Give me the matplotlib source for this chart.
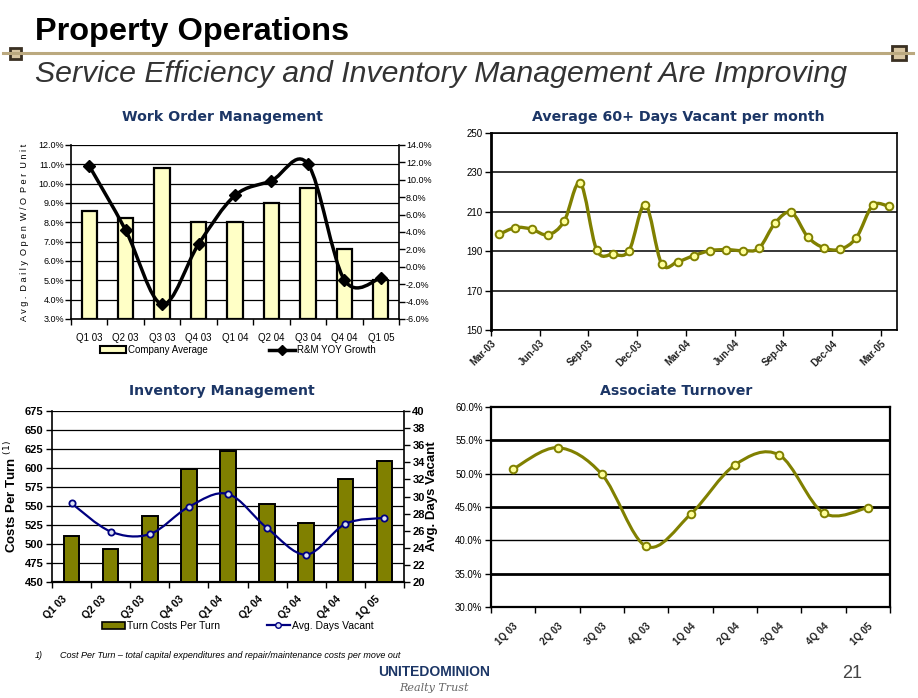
import matplotlib.pyplot as plt
import numpy as np
from matplotlib.path import Path
from matplotlib.patches import PathPatch, Rectangle
from matplotlib.lines import Line2D
from matplotlib.ticker import FuncFormatter

plt.rcParams['font.family'] = ['Liberation Sans', 'DejaVu Sans']

# ---- data ----
quarters_wo = ['Q1 03', 'Q2 03', 'Q3 03', 'Q4 03', 'Q1 04', 'Q2 04', 'Q3 04', 'Q4 04', 'Q1 05']
company_avg = [8.6, 8.2, 10.8, 8.0, 8.0, 9.0, 9.8, 6.6, 5.0]
rm_yoy = [11.6, 4.2, -4.3, 2.6, 8.2, 9.9, 11.8, -1.5, -1.3]

months = ['Mar-03', 'Jun-03', 'Sep-03', 'Dec-03', 'Mar-04', 'Jun-04', 'Sep-04', 'Dec-04', 'Mar-05']
vacant60 = [198.5, 202.0, 201.2, 198.3, 205.1, 224.6, 190.8, 188.5, 190.3, 213.7,
            183.7, 184.7, 187.8, 190.3, 190.8, 190.3, 191.5, 204.4, 209.7, 197.3,
            191.7, 191.0, 196.9, 213.2, 212.7]

quarters_inv = ['Q1 03', 'Q2 03', 'Q3 03', 'Q4 03', 'Q1 04', 'Q2 04', 'Q3 04', 'Q4 04', '1Q 05']
turn_costs = [510, 494, 537, 599, 623, 553, 527, 586, 609]
days_vacant = [29.2, 25.9, 25.6, 28.8, 30.3, 26.3, 23.2, 26.8, 27.5]

quarters_at = ['1Q 03', '2Q 03', '3Q 03', '4Q 03', '1Q 04', '2Q 04', '3Q 04', '4Q 04', '1Q 05']
turnover = [50.7, 53.9, 49.9, 39.1, 43.9, 51.3, 52.8, 44.1, 44.9]

W, H = 918, 698
NAVY = '#1C3666'
OLIVE = '#808000'
NARROW = ['Liberation Sans Narrow', 'Liberation Sans', 'DejaVu Sans']


def box(l, t, r, b):
    return [l / W, 1 - b / H, (r - l) / W, (b - t) / H]


def smooth(ax, x, y, **kw):
    # Excel-like smoothed line: cubic Bezier segments through the points
    pts = np.column_stack([x, y]).astype(float)
    n = len(pts)
    verts = [pts[0]]
    codes = [Path.MOVETO]
    for i in range(n - 1):
        p0 = pts[i - 1] if i > 0 else pts[i]
        p1 = pts[i]
        p2 = pts[i + 1]
        p3 = pts[i + 2] if i + 2 < n else pts[i + 1]
        verts += [p1 + (p2 - p0) / 6, p2 - (p3 - p1) / 6, p2]
        codes += [Path.CURVE4] * 3
    ax.add_patch(PathPatch(Path(verts, codes), fill=False, **kw))


fig = plt.figure(figsize=(W / 100, H / 100), dpi=100)

# ---- header ----
fig.text(35 / W, 1 - 32 / H, 'Property Operations', fontsize=23.4, fontweight='bold',
         va='center', ha='left', color='black')
fig.add_artist(Line2D([3 / W, 913 / W], [1 - 53 / H] * 2, color='#BBA97F', lw=2.2))
for cx, s in [(15, 11), (899, 14)]:
    fig.add_artist(Rectangle(((cx - s / 2) / W, 1 - (53 + s / 2) / H), s / W, s / H,
                             facecolor='#D8C6A2', edgecolor='#3A3022', lw=2))
fig.text(35 / W, 1 - 74 / H, 'Service Efficiency and Inventory Management Are Improving',
         fontsize=21.8, style='italic', va='center', ha='left', color='#333333')

title_kw = dict(fontsize=10.2, fontweight='bold', color=NAVY, ha='center', va='center',
                family=['DejaVu Sans'])
fig.text(222 / W, 1 - 117 / H, 'Work Order Management', **title_kw)
fig.text(678 / W, 1 - 117 / H, 'Average 60+ Days Vacant per month', **title_kw)
fig.text(222 / W, 1 - 391 / H, 'Inventory Management', **title_kw)
fig.text(676 / W, 1 - 391 / H, 'Associate Turnover', **title_kw)

# ---- Work Order Management ----
ax = fig.add_axes(box(71, 145, 399, 319))
x = np.arange(len(quarters_wo))
ax.bar(x, [v - 3 for v in company_avg], bottom=3, width=0.42, color='#FFFFC6',
       edgecolor='black', lw=1.6, zorder=3, label='Company Average')
ax.set_ylim(3, 12)
ax.set_xlim(-0.5, len(x) - 0.5)
ax.set_yticks(np.arange(3, 12.1, 1))
ax.yaxis.set_major_formatter(FuncFormatter(lambda v, p: f'{v:.1f}%'))
ax.grid(axis='y', color='black', lw=0.9, zorder=0)
ax.set_xticks(np.arange(-0.5, len(x), 1), minor=False)
ax.set_xticklabels([])
ax.set_xticks(x, minor=True)
ax.set_xticklabels(quarters_wo, minor=True, family=NARROW, fontsize=7)
ax.tick_params(axis='x', which='minor', length=0, pad=10)
ax.tick_params(axis='x', which='major', length=4, direction='out', width=1)
ax.tick_params(axis='y', labelsize=6.5, length=4, width=1, pad=1)
for t in ax.get_yticklabels():
    t.set_family(NARROW)
for sp in ['top', 'right']:
    ax.spines[sp].set_visible(False)
ax.spines['left'].set_linewidth(1.2)
ax.spines['bottom'].set_linewidth(1.2)
ax.set_ylabel('A v g .  D a i l y  O p e n  W / O  P e r  U n i t', fontsize=6.6,
              family=NARROW, labelpad=7)
ax2 = ax.twinx()
ax2.set_ylim(-6, 14)
ax2.set_yticks(np.arange(-6, 14.1, 2))
ax2.yaxis.set_major_formatter(FuncFormatter(lambda v, p: f'{v:.1f}%'))
ax2.tick_params(axis='y', labelsize=6.5, length=4, width=1, pad=1)
for t in ax2.get_yticklabels():
    t.set_family(NARROW)
for sp in ['top', 'left', 'bottom']:
    ax2.spines[sp].set_visible(False)
ax2.spines['right'].set_linewidth(1.2)
smooth(ax2, x, rm_yoy, edgecolor='black', lw=2.5, zorder=4)
ax2.plot(x, rm_yoy, ls='none', marker='D', ms=6, color='black', zorder=5)
h_bar = Rectangle((0, 0), 1, 1, facecolor='#FFFFC6', edgecolor='black', lw=1.5)
h_line = Line2D([], [], color='black', lw=2.5, marker='D', ms=5)
ax.legend([h_bar, h_line], ['Company Average', 'R&M YOY Growth'], ncol=2,
          loc='center left', bbox_to_anchor=((100 - 71) / 328, -0.178), frameon=False,
          borderpad=0, borderaxespad=0, columnspacing=6.3, handlelength=2.7,
          handletextpad=0.2, prop={'family': NARROW, 'size': 7})

# ---- Average 60+ Days Vacant ----
ax = fig.add_axes(box(491, 133, 897, 330))
xm = np.arange(len(vacant60))
ax.set_xlim(-0.5, len(xm) - 0.5)
ax.set_ylim(150, 250)
ax.set_yticks(np.arange(150, 251, 20))
ax.grid(axis='y', color='black', lw=1.1, zorder=0)
ax.set_xticks(np.arange(-0.5, len(xm), 3))
ax.set_xticklabels(months, rotation=45, ha='right', rotation_mode='anchor',
                   fontsize=7, fontweight='bold', color='#222222')
ax.tick_params(axis='x', length=4, width=1, pad=2)
ax.tick_params(axis='y', labelsize=7, length=4, width=1, pad=2)
for sp in ax.spines.values():
    sp.set_linewidth(1.2)
ax.spines['left'].set_linewidth(2)
smooth(ax, xm, vacant60, edgecolor=OLIVE, lw=2.4, zorder=4)
ax.plot(xm, vacant60, ls='none', marker='o', ms=5.5, mfc='#FFFF99', mec=OLIVE, mew=1.4,
        zorder=5)

# ---- Inventory Management ----
ax = fig.add_axes(box(52, 411, 404, 582))
x = np.arange(len(quarters_inv))
ax.bar(x, [v - 450 for v in turn_costs], bottom=450, width=0.4, color=OLIVE,
       edgecolor='black', lw=1.4, zorder=3)
ax.set_ylim(450, 675)
ax.set_xlim(-0.5, len(x) - 0.5)
ax.set_yticks(np.arange(450, 676, 25))
ax.grid(axis='y', color='black', lw=0.9, zorder=0)
ax.set_xticks(np.arange(-0.5, len(x), 1))
ax.set_xticklabels([])
# rotated labels end a little left of each bar centre, as in the original
ax.set_xticks(x - 0.25, minor=True)
ax.set_xticklabels(quarters_inv, minor=True, rotation=45, ha='right',
                   rotation_mode='anchor', fontsize=7.5, fontweight='bold')
ax.tick_params(axis='x', which='minor', length=0, pad=9)
ax.tick_params(axis='x', which='major', length=4, width=1)
ax.tick_params(axis='y', labelsize=8, length=4, width=1, pad=2)
for t in ax.get_yticklabels():
    t.set_fontweight('bold')
for sp in ['top', 'right']:
    ax.spines[sp].set_visible(False)
ax.spines['left'].set_linewidth(1.2)
ax.spines['bottom'].set_linewidth(1.6)
ax.set_ylabel('Costs Per Turn $^{(1)}$', fontsize=9.5, fontweight='bold', labelpad=4)
ax2 = ax.twinx()
ax2.set_ylim(20, 40)
ax2.set_yticks(np.arange(20, 41, 2))
ax2.tick_params(axis='y', labelsize=8, length=4, width=1, pad=2)
for t in ax2.get_yticklabels():
    t.set_fontweight('bold')
for sp in ['top', 'left', 'bottom']:
    ax2.spines[sp].set_visible(False)
ax2.spines['right'].set_linewidth(1.2)
ax2.set_ylabel('Avg. Days Vacant', fontsize=9.5, fontweight='bold', labelpad=1)
smooth(ax2, x, days_vacant, edgecolor='#000080', lw=1.6, zorder=4)
ax2.plot(x, days_vacant, ls='none', marker='o', ms=4.5, mfc='#DDE3F5', mec='#000080',
         mew=1.3, zorder=5)
h_bar = Rectangle((0, 0), 1, 1, facecolor=OLIVE, edgecolor='black', lw=1.2)
h_line = Line2D([], [], color='#000080', lw=1.6, marker='o', ms=4, mfc='#DDE3F5')
ax.legend([h_bar, h_line], ['Turn Costs Per Turn', 'Avg. Days Vacant'], ncol=2,
          loc='center left', bbox_to_anchor=((102 - 52) / 352, -0.257), frameon=False,
          borderpad=0, borderaxespad=0, columnspacing=4.5, handlelength=2.2,
          handletextpad=0.2, prop={'size': 7.5})

# ---- Associate Turnover ----
ax = fig.add_axes(box(491, 407, 890, 607))
x = np.arange(len(quarters_at))
ax.set_xlim(-0.5, len(x) - 0.5)
ax.set_ylim(30, 60)
ax.set_yticks(np.arange(30, 60.1, 5))
ax.yaxis.set_major_formatter(FuncFormatter(lambda v, p: f'{v:.1f}%'))
for yv in [35, 40, 45, 50, 55]:
    ax.axhline(yv, color='black', lw=2.0 if yv in (35, 45, 55) else 1.0, zorder=0)
ax.set_xticks(np.arange(-0.5, len(x), 1))
ax.set_xticklabels([])
ax.set_xticks(x, minor=True)
ax.set_xticklabels(quarters_at, minor=True, rotation=45, ha='right',
                   rotation_mode='anchor', fontsize=7, fontweight='bold', color='#222222')
ax.tick_params(axis='x', which='minor', length=0, pad=10)
ax.tick_params(axis='x', which='major', length=4, width=1)
ax.tick_params(axis='y', labelsize=7, length=4, width=1, pad=2)
for sp in ax.spines.values():
    sp.set_linewidth(1.6)
smooth(ax, x, turnover, edgecolor=OLIVE, lw=2.2, zorder=4)
ax.plot(x, turnover, ls='none', marker='o', ms=5.5, mfc='#FFFF99', mec=OLIVE, mew=1.4,
        zorder=5)

# ---- footer ----
fig.text(35 / W, 1 - 656 / H, '1)', fontsize=6.5, style='italic', va='center')
fig.text(60 / W, 1 - 656 / H,
         'Cost Per Turn \u2013 total capital expenditures and repair/maintenance costs per move out',
         fontsize=6.5, style='italic', va='center')
fig.text(434 / W, 1 - 672 / H, 'UNITEDOMINION', fontsize=10, fontweight='bold', color=NAVY,
         ha='center', va='center')
fig.text(434 / W, 1 - 688 / H, 'Realty Trust', fontsize=8, style='italic', color='#666666',
         ha='center', va='center', family=['DejaVu Serif'])
fig.text(852 / W, 1 - 674 / H, '21', fontsize=13, color='#444444', ha='center', va='center')

fig.savefig('out.png', dpi=100)
